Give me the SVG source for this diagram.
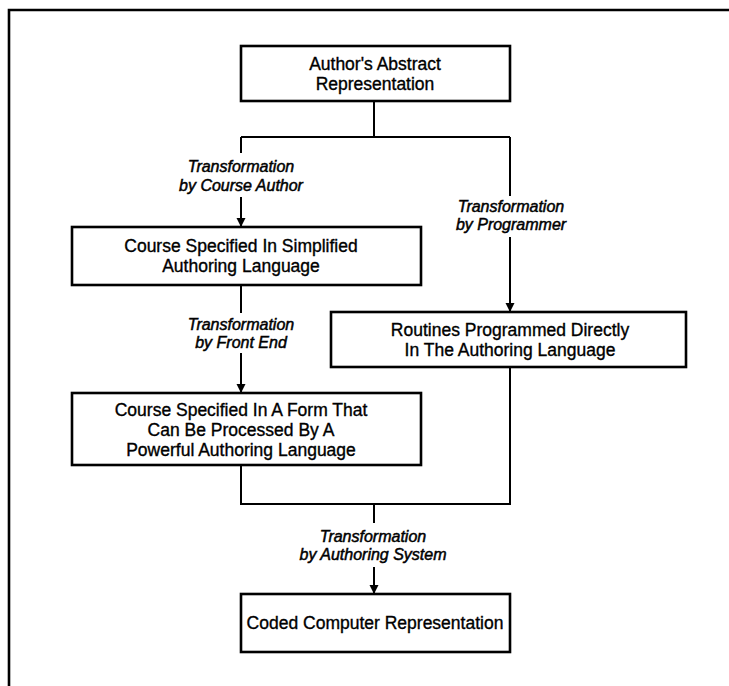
<svg xmlns="http://www.w3.org/2000/svg" width="729" height="686" viewBox="0 0 729 686">
<defs>
<style>
.box{fill:#fff;stroke:#000;stroke-width:2.6}
.t{font-family:"Liberation Sans","Open Sans",sans-serif;font-size:17.5px;text-anchor:middle;fill:#000;stroke:#000;stroke-width:0.35}
.l{font-family:"Liberation Sans","Open Sans",sans-serif;font-size:16px;font-style:italic;text-anchor:middle;fill:#000;stroke:#000;stroke-width:0.5}
.c{fill:none;stroke:#000;stroke-width:2}
.frame{fill:none;stroke:#000;stroke-width:2.6}
</style>
<marker id="ah" viewBox="0 0 9 14" refX="9" refY="7" markerWidth="9" markerHeight="14" markerUnits="userSpaceOnUse" orient="auto">
<path d="M0,2.5 L9,7 L0,11.5 z" fill="#000"/>
</marker>
</defs>
<rect width="729" height="686" fill="#fff"/>
<path class="frame" d="M9,686 V10 H729"/>
<g id="connectors">
<path class="c" d="M374,101 V137"/>
<path class="c" d="M241,137 H510"/>
<path class="c" d="M241,137 V153"/>
<path class="c" d="M241,197 V227" marker-end="url(#ah)"/>
<path class="c" d="M510,137 V196"/>
<path class="c" d="M510,237 V312" marker-end="url(#ah)"/>
<path class="c" d="M241,285 V313"/>
<path class="c" d="M241,353 V393" marker-end="url(#ah)"/>
<path class="c" d="M241,465 V504 H510 V367"/>
<path class="c" d="M374,504 V523"/>
<path class="c" d="M374,567 V594" marker-end="url(#ah)"/>
<text class="l" x="241" y="172">Transformation</text>
<text class="l" x="241" y="191">by Course Author</text>
<text class="l" x="511" y="212">Transformation</text>
<text class="l" x="511" y="230">by Programmer</text>
<text class="l" x="241" y="330">Transformation</text>
<text class="l" x="241" y="348">by Front End</text>
<text class="l" x="373" y="542">Transformation</text>
<text class="l" x="373" y="560">by Authoring System</text>
</g>
<g id="n1">
<rect class="box" x="241" y="46" width="269" height="55"/>
<text class="t" x="375" y="70">Author's Abstract</text>
<text class="t" x="375" y="90">Representation</text>
</g>
<g id="n2">
<rect class="box" x="72" y="227" width="349" height="58"/>
<text class="t" x="241" y="252">Course Specified In Simplified</text>
<text class="t" x="241" y="272">Authoring Language</text>
</g>
<g id="n3">
<rect class="box" x="331" y="312" width="355" height="55"/>
<text class="t" x="510" y="336">Routines Programmed Directly</text>
<text class="t" x="510" y="356">In The Authoring Language</text>
</g>
<g id="n4">
<rect class="box" x="72" y="393" width="349" height="72"/>
<text class="t" x="241" y="416">Course Specified In A Form That</text>
<text class="t" x="241" y="436">Can Be Processed By A</text>
<text class="t" x="241" y="456">Powerful Authoring Language</text>
</g>
<g id="n5">
<rect class="box" x="241" y="594" width="269" height="58"/>
<text class="t" x="375" y="629">Coded Computer Representation</text>
</g>
</svg>
